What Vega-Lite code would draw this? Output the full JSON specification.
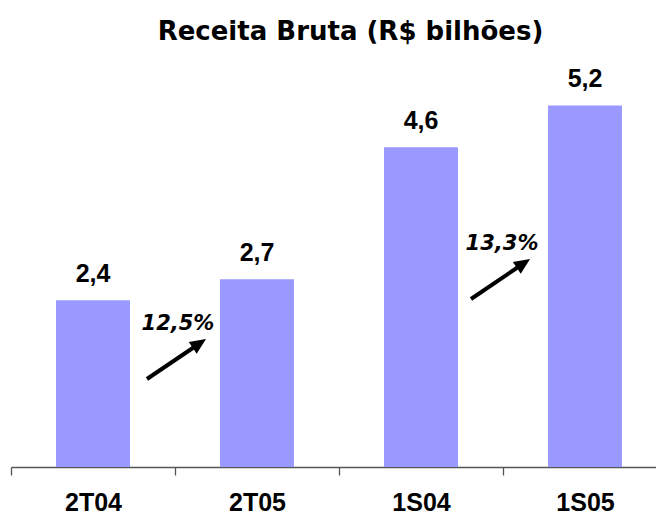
{
  "$schema": "https://vega.github.io/schema/vega-lite/v6.json",
  "autosize": {"type": "none"},
  "width": 645,
  "height": 417,
  "padding": {"left": 11, "top": 50, "right": 0, "bottom": 49},
  "background": "white",
  "config": {"view": {"stroke": null}},
  "title": {
    "text": "Receita Bruta (R$ bilhões)",
    "font": "DejaVu Sans",
    "fontSize": 26,
    "fontWeight": "bold",
    "color": "black",
    "anchor": "middle",
    "frame": "group",
    "dx": 17,
    "offset": -16,
    "baseline": "alphabetic"
  },
  "datasets": {
    "bars": [
      {"cat": "2T04", "value": 2.4, "label": "2,4"},
      {"cat": "2T05", "value": 2.7, "label": "2,7"},
      {"cat": "1S04", "value": 4.6, "label": "4,6"},
      {"cat": "1S05", "value": 5.2, "label": "5,2"}
    ],
    "arrows": [
      {"x1": 0.829, "y1": 1.266, "lx": 1.149, "ly": 1.777, "tipx": 1.189, "tipy": 1.842, "px": 1.018, "py": 1.971, "pct": "12,5%"},
      {"x1": 2.805, "y1": 2.417, "lx": 3.124, "ly": 2.928, "tipx": 3.165, "tipy": 2.993, "px": 2.994, "py": 3.122, "pct": "13,3%"}
    ]
  },
  "layer": [
    {
      "data": {"name": "bars"},
      "mark": {"type": "bar", "color": "#9999FF", "width": {"band": 0.451}},
      "encoding": {
        "x": {
          "field": "cat", "type": "nominal", "sort": null,
          "scale": {"range": [0, 656], "paddingInner": 0, "paddingOuter": 0},
          "axis": {
            "title": null, "tickBand": "extent", "labelAngle": 0,
            "labelFont": "Liberation Sans", "labelFontSize": 25, "labelFontWeight": "bold",
            "labelColor": "black", "labelBaseline": "alphabetic", "labelPadding": 35,
            "tickSize": 8, "tickColor": "#555555", "tickWidth": 1.3,
            "domainColor": "#555555", "domainWidth": 1.3, "grid": false
          }
        },
        "y": {"field": "value", "type": "quantitative", "scale": {"domain": [0, 6], "nice": false}, "axis": null}
      }
    },
    {
      "data": {"name": "bars"},
      "mark": {"type": "text", "font": "Liberation Sans", "fontSize": 25, "fontWeight": "bold", "color": "black", "baseline": "alphabetic", "align": "center", "dy": -18.5},
      "encoding": {
        "x": {"field": "cat", "type": "nominal", "sort": null, "scale": {"range": [0, 656], "paddingInner": 0, "paddingOuter": 0}, "axis": null},
        "y": {"field": "value", "type": "quantitative", "scale": {"domain": [0, 6], "nice": false}, "axis": null},
        "text": {"field": "label"}
      }
    },
    {
      "data": {"name": "arrows"},
      "mark": {"type": "rule", "color": "black", "strokeWidth": 4, "strokeCap": "butt"},
      "encoding": {
        "x": {"field": "x1", "type": "quantitative", "scale": {"domain": [0, 4], "range": [0, 656], "nice": false, "zero": false}, "axis": null},
        "x2": {"field": "lx"},
        "y": {"field": "y1", "type": "quantitative", "scale": {"domain": [0, 6], "nice": false}, "axis": null},
        "y2": {"field": "ly"}
      }
    },
    {
      "data": {"name": "arrows"},
      "mark": {"type": "point", "shape": "M0,0L0.4,0.9L-0.4,0.9Z", "size": 1264, "angle": 56, "filled": true, "color": "black", "opacity": 1, "strokeWidth": 0},
      "encoding": {
        "x": {"field": "tipx", "type": "quantitative", "scale": {"domain": [0, 4], "range": [0, 656], "nice": false, "zero": false}, "axis": null},
        "y": {"field": "tipy", "type": "quantitative", "scale": {"domain": [0, 6], "nice": false}, "axis": null}
      }
    },
    {
      "data": {"name": "arrows"},
      "mark": {"type": "text", "font": "DejaVu Sans", "fontSize": 21, "fontWeight": "bold", "fontStyle": "italic", "color": "black", "baseline": "alphabetic", "align": "center"},
      "encoding": {
        "x": {"field": "px", "type": "quantitative", "scale": {"domain": [0, 4], "range": [0, 656], "nice": false, "zero": false}, "axis": null},
        "y": {"field": "py", "type": "quantitative", "scale": {"domain": [0, 6], "nice": false}, "axis": null},
        "text": {"field": "pct"}
      }
    }
  ],
  "resolve": {"scale": {"x": "independent"}, "axis": {"x": "independent"}}
}
